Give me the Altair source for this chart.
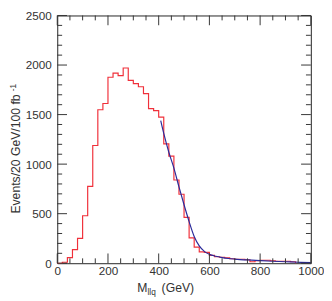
import altair as alt
import pandas as pd

# ---------------- data ----------------
bin_lo = list(range(0, 940, 20))
counts = [0, 10, 57, 137, 250, 479, 776, 1188, 1549, 1612,
          1877, 1918, 1893, 1970, 1845, 1813, 1781, 1711, 1560, 1540,
          1475, 1205, 1080, 840, 696, 463, 256, 163, 115, 110,
          80, 65, 60, 55, 45, 40, 40, 35, 15, 25,
          30, 30, 25, 20, 20, 20, 15]
hist_end = 940

fit_mass = [408, 420, 440, 460, 480, 500, 520, 540, 560, 580, 600,
            625, 650, 675, 700, 750, 800, 850, 900, 950, 1000]
fit_events = [1440, 1310, 1120, 960, 770, 590, 420, 270, 175, 120, 90,
              70, 57, 48, 42, 33, 26, 20, 15, 10, 6]

x_major = [0, 200, 400, 600, 800, 1000]
x_minor = [v for v in range(50, 1000, 50) if v % 200 != 0]
y_major = [0, 500, 1000, 1500, 2000, 2500]
y_minor = [v for v in range(100, 2500, 100) if v % 500 != 0]

W, H = 260, 254
FONT = "Liberation Sans"
TXT = "#333333"
TICK = "#333333"

hist_df = pd.DataFrame({"mass": bin_lo + [hist_end], "events": counts + [0]})
fit_df = pd.DataFrame({"mass": fit_mass, "events": fit_events})

xs = alt.Scale(domain=[0, 1000], nice=False, zero=False)
ys = alt.Scale(domain=[0, 2500], nice=False)

x_axis = alt.Axis(
    values=x_major, format="d", ticks=False, tickSize=0, domain=False, grid=False,
    labelFont=FONT, labelFontSize=12, labelColor=TXT, labelPadding=3,
    labelFlush=False, title=None)
y_axis = alt.Axis(
    values=y_major, format="d", ticks=False, tickSize=0, domain=False, grid=False,
    labelFont=FONT, labelFontSize=12, labelColor=TXT, labelPadding=6,
    labelFlush=False, title=None)

hist = alt.Chart(hist_df).mark_line(
    interpolate="step-after", color="#f0303a", strokeWidth=1.2
).encode(
    x=alt.X("mass:Q", scale=xs, axis=x_axis, title=None),
    y=alt.Y("events:Q", scale=ys, axis=y_axis, title=None),
)

fit = alt.Chart(fit_df).mark_line(
    interpolate="monotone", color="#2a2a9a", strokeWidth=1.2
).encode(
    x=alt.X("mass:Q", scale=xs, axis=x_axis, title=None),
    y=alt.Y("events:Q", scale=ys, axis=y_axis, title=None),
)

def xticks(vals, length):
    d = pd.DataFrame({"mass": vals})
    bot = alt.Chart(d).mark_rule(color=TICK, strokeWidth=1).encode(
        x=alt.X("mass:Q", scale=xs, axis=x_axis, title=None),
        y=alt.value(H), y2=alt.value(H - length))
    top = alt.Chart(d).mark_rule(color=TICK, strokeWidth=1).encode(
        x=alt.X("mass:Q", scale=xs, axis=x_axis, title=None),
        y=alt.value(0), y2=alt.value(length))
    return [bot, top]

def yticks(vals, length):
    d = pd.DataFrame({"events": vals})
    left = alt.Chart(d).mark_rule(color=TICK, strokeWidth=1).encode(
        y=alt.Y("events:Q", scale=ys, axis=y_axis, title=None),
        x=alt.value(0), x2=alt.value(length))
    right = alt.Chart(d).mark_rule(color=TICK, strokeWidth=1).encode(
        y=alt.Y("events:Q", scale=ys, axis=y_axis, title=None),
        x=alt.value(W), x2=alt.value(W - length))
    return [left, right]

ticks = xticks(x_major, 10) + xticks(x_minor, 5) + yticks(y_major, 10) + yticks(y_minor, 5)

one = pd.DataFrame({"a": [0]})

def label(text, x, y, size, angle=0, align="left"):
    return alt.Chart(one).mark_text(
        text=text, font=FONT, fontSize=size, color=TXT, align=align,
        baseline="middle", angle=angle
    ).encode(x=alt.value(x), y=alt.value(y))

titles = [
    label("M", 82, 280, 12.5),
    label("llq", 92.5, 284, 8.5),
    label("(GeV)", 107, 280, 12.5),
    label("Events/20 GeV/100 fb", -42, 142, 12.5, angle=270, align="center"),
    label("-1", -45.5, 74, 8.5, angle=270, align="center"),
]

chart = alt.layer(hist, fit, *ticks, *titles).properties(
    width=W, height=H,
    autosize=alt.AutoSizeParams(type="none"),
    padding={"left": 50.5, "top": 4, "right": 13.5, "bottom": 33},
).configure_view(stroke="#222222", strokeWidth=1)

chart.save("out.html", embed_options={"renderer": "svg", "actions": False})
